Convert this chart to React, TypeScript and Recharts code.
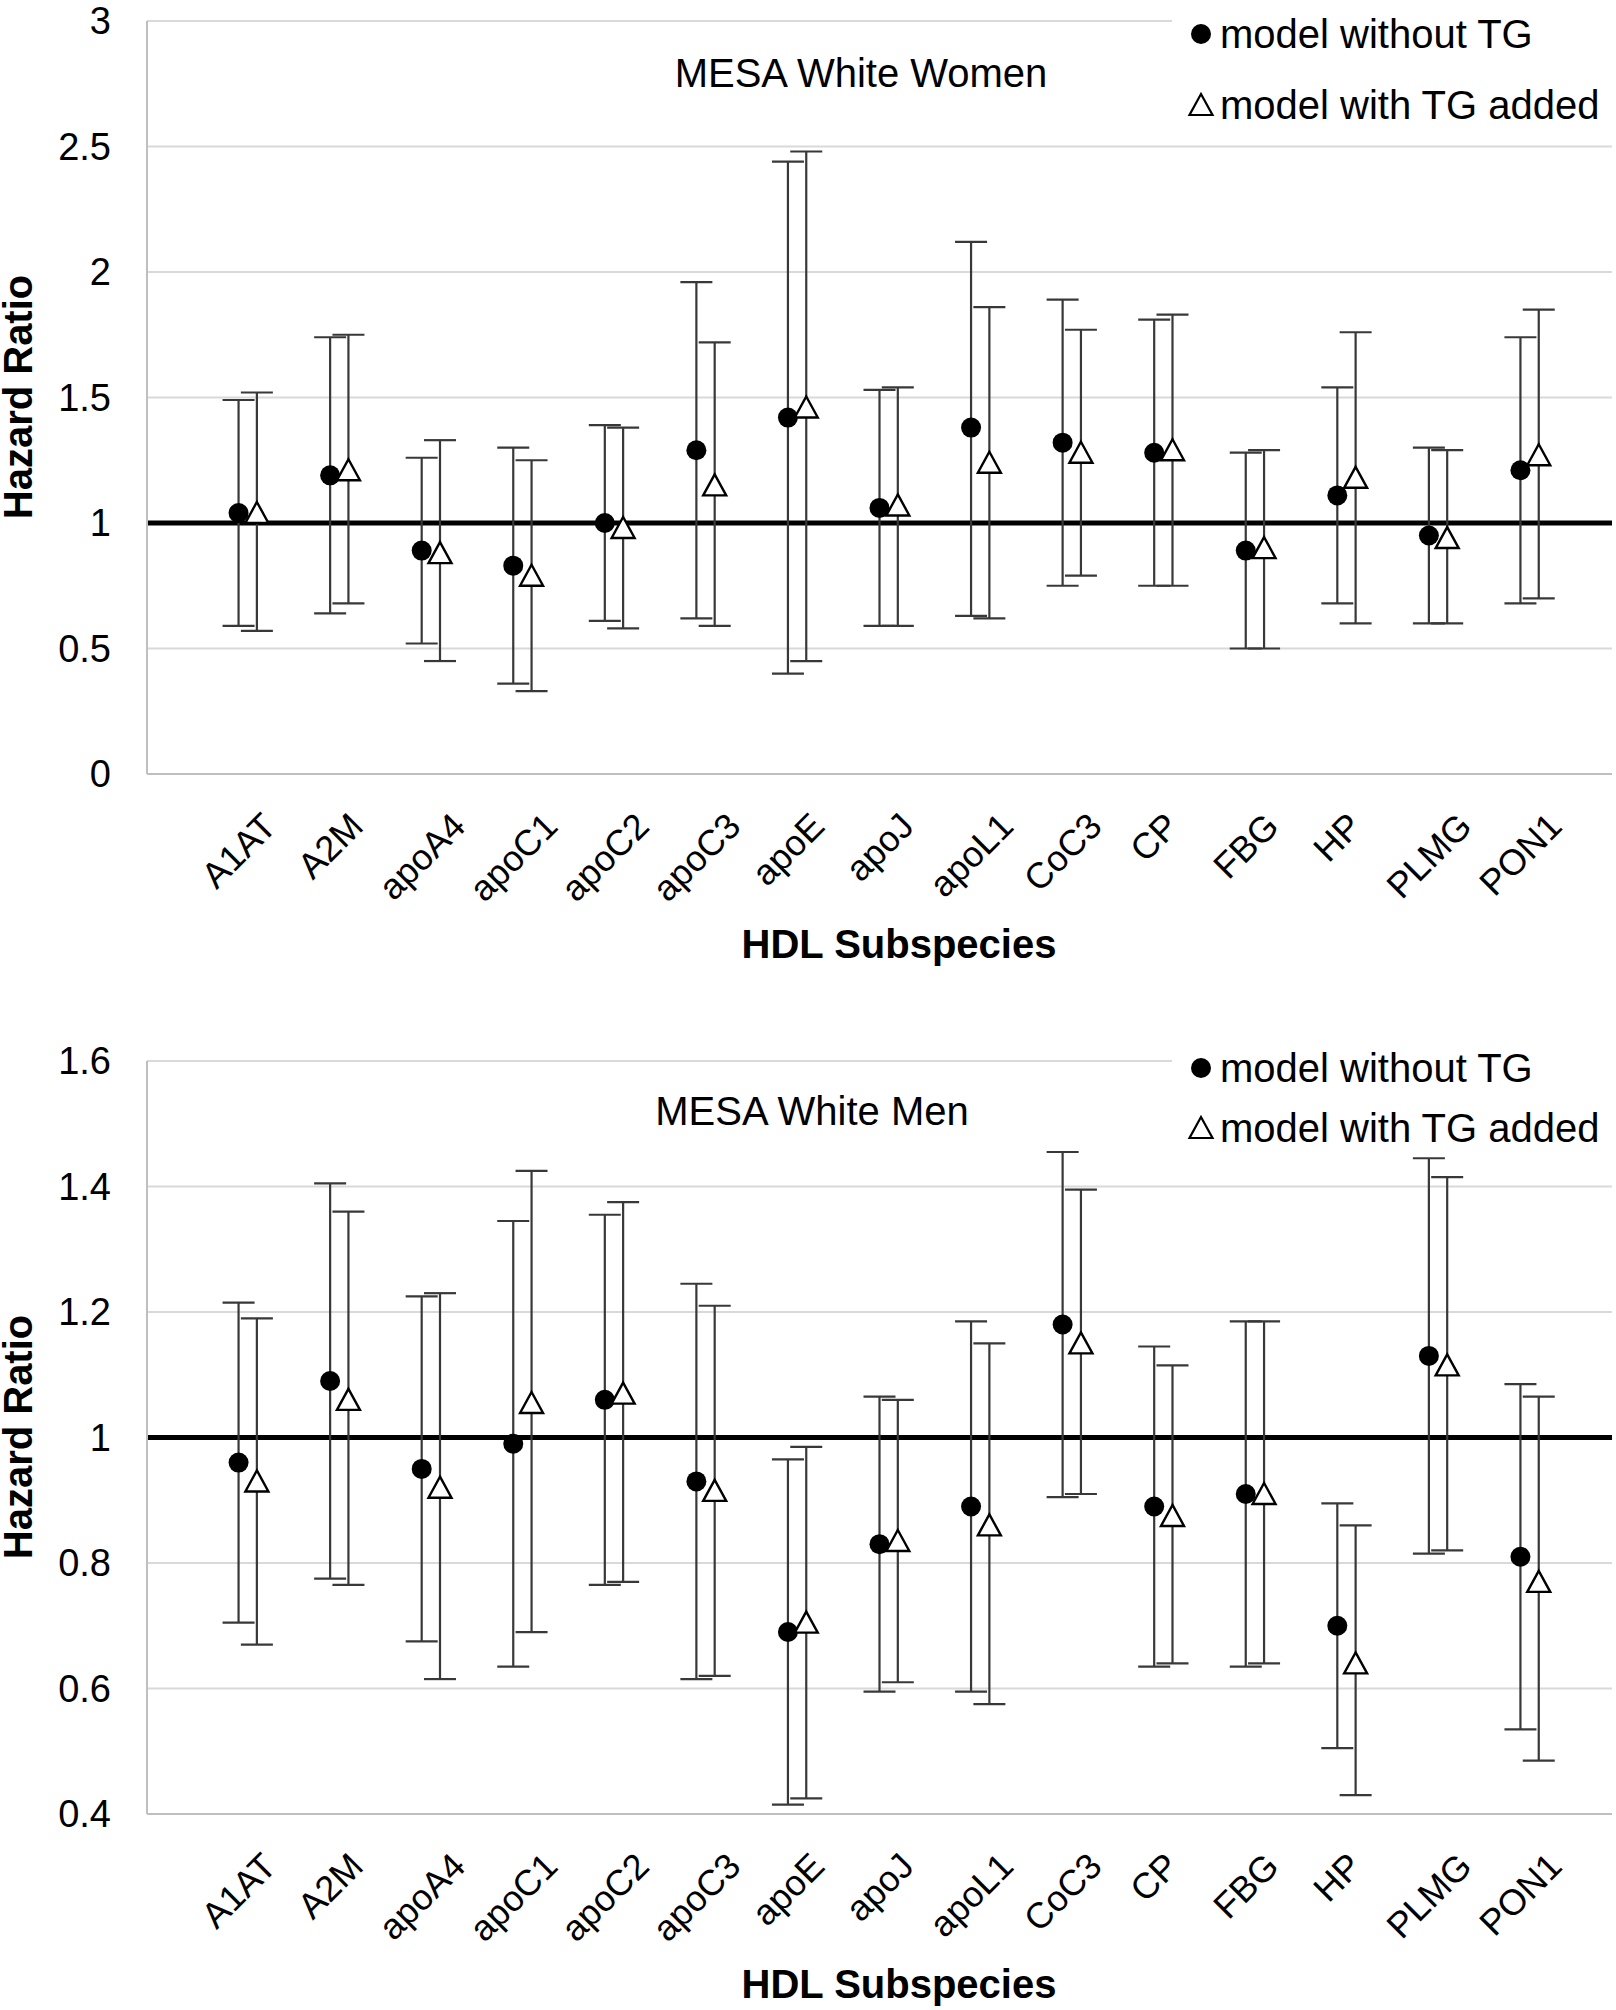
import React from "react";
import {
  ScatterChart,
  Scatter,
  XAxis,
  YAxis,
  CartesianGrid,
  ErrorBar,
  ReferenceLine,
} from "recharts";

const subspecies = [
  "A1AT", "A2M", "apoA4", "apoC1", "apoC2", "apoC3", "apoE", "apoJ",
  "apoL1", "CoC3", "CP", "FBG", "HP", "PLMG", "PON1",
];

// MESA White Women
const womenNoTG = [1.04, 1.19, 0.89, 0.83, 1.0, 1.29, 1.42, 1.06, 1.38, 1.32, 1.28, 0.89, 1.11, 0.95, 1.21];
const womenNoTGLow = [0.59, 0.64, 0.52, 0.36, 0.61, 0.62, 0.4, 0.59, 0.63, 0.75, 0.75, 0.5, 0.68, 0.6, 0.68];
const womenNoTGHigh = [1.49, 1.74, 1.26, 1.3, 1.39, 1.96, 2.44, 1.53, 2.12, 1.89, 1.81, 1.28, 1.54, 1.3, 1.74];
const womenTG = [1.04, 1.21, 0.88, 0.79, 0.98, 1.15, 1.46, 1.07, 1.24, 1.28, 1.29, 0.9, 1.18, 0.94, 1.27];
const womenTGLow = [0.57, 0.68, 0.45, 0.33, 0.58, 0.59, 0.45, 0.59, 0.62, 0.79, 0.75, 0.5, 0.6, 0.6, 0.7];
const womenTGHigh = [1.52, 1.75, 1.33, 1.25, 1.38, 1.72, 2.48, 1.54, 1.86, 1.77, 1.83, 1.29, 1.76, 1.29, 1.85];
const womenTicks = [0, 0.5, 1, 1.5, 2, 2.5, 3];

// MESA White Men
const menNoTG = [0.96, 1.09, 0.95, 0.99, 1.06, 0.93, 0.69, 0.83, 0.89, 1.18, 0.89, 0.91, 0.7, 1.13, 0.81];
const menNoTGLow = [0.705, 0.775, 0.675, 0.635, 0.765, 0.615, 0.415, 0.595, 0.595, 0.905, 0.635, 0.635, 0.505, 0.815, 0.535];
const menNoTGHigh = [1.215, 1.405, 1.225, 1.345, 1.355, 1.245, 0.965, 1.065, 1.185, 1.455, 1.145, 1.185, 0.895, 1.445, 1.085];
const menTG = [0.93, 1.06, 0.92, 1.055, 1.07, 0.915, 0.705, 0.835, 0.86, 1.15, 0.875, 0.91, 0.64, 1.115, 0.77];
const menTGLow = [0.67, 0.765, 0.615, 0.69, 0.77, 0.62, 0.425, 0.61, 0.575, 0.91, 0.64, 0.64, 0.43, 0.82, 0.485];
const menTGHigh = [1.19, 1.36, 1.23, 1.425, 1.375, 1.21, 0.985, 1.06, 1.15, 1.395, 1.115, 1.185, 0.86, 1.415, 1.065];
const menTicks = [0.4, 0.6, 0.8, 1, 1.2, 1.4, 1.6];

const FONT = '"Liberation Sans", Arial, Helvetica, sans-serif';
const TICK_FS = 36;
const YTICK_FS = 38;
const TEXT_FS = 40;
const BAR_COLOR = "#383838";

const xTicks = subspecies.map((_, i) => i + 1);

// scatter rows: x position is the category number, triangles are nudged right
const toRows = (vals: number[], lo: number[], hi: number[], shift: number) =>
  vals.map((v, i) => ({ x: i + 1 + shift, y: v, err: [v - lo[i], hi[i] - v] }));

let measureCtx: CanvasRenderingContext2D | null = null;
function textWidth(s: string, size: number) {
  if (!measureCtx) measureCtx = document.createElement("canvas").getContext("2d");
  if (!measureCtx) return s.length * size * 0.55;
  measureCtx.font = `${size}px ${FONT}`;
  return measureCtx.measureText(s).width;
}

// rotated category label, its bounding box hangs below the axis centred on the tick
const CategoryTick = (props: any) => {
  const { x, y, payload } = props;
  const label = subspecies[Math.round(payload.value) - 1] ?? "";
  const w = textWidth(label, TICK_FS);
  const half = ((w + TICK_FS * 0.75) * Math.SQRT1_2) / 2;
  const cy = y + 36 + half;
  return (
    <text
      x={x}
      y={cy}
      textAnchor="middle"
      dominantBaseline="central"
      transform={`rotate(-45, ${x}, ${cy})`}
      fontSize={TICK_FS}
      fontFamily={FONT}
      fill="#000"
    >
      {label}
    </text>
  );
};

const DotShape = (p: any) => <circle cx={p.cx} cy={p.cy} r={10} fill="#000" />;

const TriShape = (p: any) => (
  <polygon
    points={`${p.cx},${p.cy - 11} ${p.cx + 11.5},${p.cy + 10} ${p.cx - 11.5},${p.cy + 10}`}
    fill="#fff"
    stroke="#000"
    strokeWidth={2.4}
  />
);

type PanelProps = {
  top: number;
  title: string;
  titleX: number;
  titleY: number;
  legendY1: number;
  legendY2: number;
  domain: [number, number];
  ticks: number[];
  noTG: number[];
  noTGLow: number[];
  noTGHigh: number[];
  withTG: number[];
  withTGLow: number[];
  withTGHigh: number[];
};

const abs = (left: number, top: number, extra: React.CSSProperties = {}): React.CSSProperties => ({
  position: "absolute",
  left,
  top,
  transform: "translate(-50%, -50%)",
  whiteSpace: "nowrap",
  lineHeight: 1,
  fontFamily: FONT,
  color: "#000",
  ...extra,
});

function Panel(p: PanelProps) {
  const dots = toRows(p.noTG, p.noTGLow, p.noTGHigh, 0);
  const tris = toRows(p.withTG, p.withTGLow, p.withTGHigh, 0.2);
  return (
    <div style={{ position: "absolute", left: 0, top: p.top, width: 1616, height: 970 }}>
      <ScatterChart
        width={1616}
        height={970}
        margin={{ top: 21, right: 4, bottom: 96, left: 0 }}
      >
        <CartesianGrid horizontal vertical={false} stroke="#d9d9d9" strokeWidth={2} />
        <XAxis
          type="number"
          dataKey="x"
          domain={[0, 16]}
          ticks={xTicks}
          interval={0}
          tick={<CategoryTick />}
          tickLine={false}
          tickSize={0}
          tickMargin={0}
          axisLine={{ stroke: "#bfbfbf", strokeWidth: 2 }}
          height={100}
        />
        <YAxis
          type="number"
          dataKey="y"
          domain={p.domain}
          ticks={p.ticks}
          interval={0}
          tickLine={false}
          tickSize={0}
          tickMargin={36}
          axisLine={{ stroke: "#bfbfbf", strokeWidth: 2 }}
          width={147}
          tick={{ fontSize: YTICK_FS, fill: "#000", fontFamily: FONT }}
        />
        <ReferenceLine y={1} stroke="#000" strokeWidth={5} />
        <Scatter data={dots} shape={DotShape} isAnimationActive={false}>
          <ErrorBar dataKey="err" direction="y" width={16} stroke={BAR_COLOR} strokeWidth={2.2} />
        </Scatter>
        <Scatter data={tris} shape={TriShape} isAnimationActive={false}>
          <ErrorBar dataKey="err" direction="y" width={16} stroke={BAR_COLOR} strokeWidth={2.2} />
        </Scatter>
      </ScatterChart>

      <div style={abs(p.titleX, p.titleY, { fontSize: TEXT_FS })}>{p.title}</div>

      {/* legend sits on a white box over the top gridline */}
      <div
        style={{
          position: "absolute",
          left: 1172,
          top: Math.min(p.legendY1 - 30, 0),
          width: 444,
          height: p.legendY2 + 28 - Math.min(p.legendY1 - 30, 0),
          background: "#fff",
        }}
      />
      <svg style={{ position: "absolute", left: 1186, top: p.legendY1 - 15 }} width={30} height={30}>
        <circle cx={15} cy={15} r={10} fill="#000" />
      </svg>
      <div style={{ ...abs(1220, p.legendY1, { fontSize: TEXT_FS }), transform: "translate(0, -50%)" }}>
        model without TG
      </div>
      <svg style={{ position: "absolute", left: 1186, top: p.legendY2 - 15 }} width={30} height={30}>
        <polygon points="15,4 26.5,25 3.5,25" fill="#fff" stroke="#000" strokeWidth={2.2} />
      </svg>
      <div style={{ ...abs(1220, p.legendY2, { fontSize: TEXT_FS }), transform: "translate(0, -50%)" }}>
        model with TG added
      </div>

      <div
        style={abs(18, 397, {
          fontSize: TEXT_FS,
          fontWeight: 700,
          transform: "translate(-50%, -50%) rotate(-90deg)",
        })}
      >
        Hazard Ratio
      </div>
      <div style={abs(899, 944, { fontSize: TEXT_FS, fontWeight: 700 })}>HDL Subspecies</div>
    </div>
  );
}

export default function App() {
  return (
    <div style={{ position: "absolute", left: 0, top: 0, width: 1616, height: 2010, background: "#fff" }}>
      <Panel
        top={0}
        title="MESA White Women"
        titleX={861}
        titleY={73}
        legendY1={34}
        legendY2={105}
        domain={[0, 3]}
        ticks={womenTicks}
        noTG={womenNoTG}
        noTGLow={womenNoTGLow}
        noTGHigh={womenNoTGHigh}
        withTG={womenTG}
        withTGLow={womenTGLow}
        withTGHigh={womenTGHigh}
      />
      <Panel
        top={1040}
        title="MESA White Men"
        titleX={812}
        titleY={71}
        legendY1={28}
        legendY2={88}
        domain={[0.4, 1.6]}
        ticks={menTicks}
        noTG={menNoTG}
        noTGLow={menNoTGLow}
        noTGHigh={menNoTGHigh}
        withTG={menTG}
        withTGLow={menTGLow}
        withTGHigh={menTGHigh}
      />
    </div>
  );
}
